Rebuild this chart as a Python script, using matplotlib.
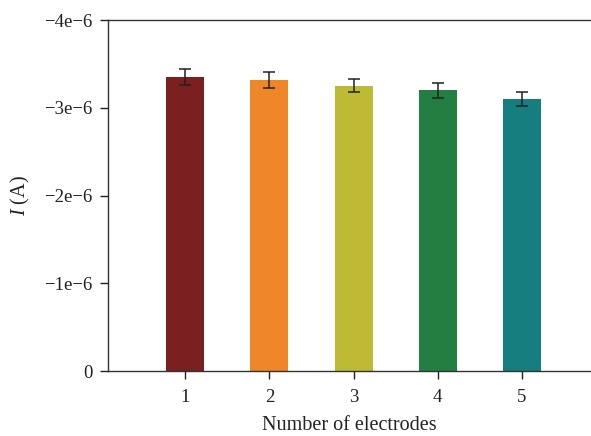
import matplotlib
matplotlib.use("Agg")
import matplotlib.pyplot as plt

categories = [1, 2, 3, 4, 5]
currents = [-3.35e-6, -3.32e-6, -3.25e-6, -3.20e-6, -3.10e-6]
errors = [0.09e-6, 0.09e-6, 0.075e-6, 0.085e-6, 0.08e-6]
colors = ["#7B1F20", "#EF8629", "#BDBB35", "#237E41", "#177E80"]
yticks = [0, -1e-6, -2e-6, -3e-6, -4e-6]
yticklabels = ["0", "\u22121e\u22126", "\u22122e\u22126", "\u22123e\u22126", "\u22124e\u22126"]

plt.rcParams['font.family'] = ['Liberation Serif', 'DejaVu Serif']
plt.rcParams['mathtext.fontset'] = 'custom'
plt.rcParams['mathtext.it'] = 'Liberation Serif:italic'
plt.rcParams['mathtext.rm'] = 'Liberation Serif'

fig = plt.figure(figsize=(5.91, 4.36), dpi=100)
ax = fig.add_axes([108/591, 1-371/436, 1-108/591, (371-20)/436])

ax.bar(categories, currents, width=0.45, color=colors,
       yerr=errors, capsize=4.5, error_kw=dict(ecolor='#222222', elinewidth=1.1, capthick=1.1))

ax.set_xlim(0.083, 5.82)
ax.set_ylim(0, -4e-6)
ax.set_yticks(yticks)
ax.set_yticklabels(yticklabels)
ax.set_xticks(categories)
ax.set_xticklabels([str(c) for c in categories])
ax.tick_params(axis='both', direction='out', length=6, width=1, labelsize=13.5, colors='#222222')
ax.tick_params(axis='y', pad=5)
ax.tick_params(axis='x', pad=7)

for s in ['left', 'bottom', 'top']:
    ax.spines[s].set_linewidth(1)
    ax.spines[s].set_color('#333333')
ax.spines['right'].set_visible(False)

ax.set_xlabel("Number of electrodes", fontsize=14.5, color='#222222', labelpad=7.5)
ax.set_ylabel("$I$ (A)", fontsize=14.5, color='#222222', labelpad=9)

fig.savefig("out.png", dpi=100)
